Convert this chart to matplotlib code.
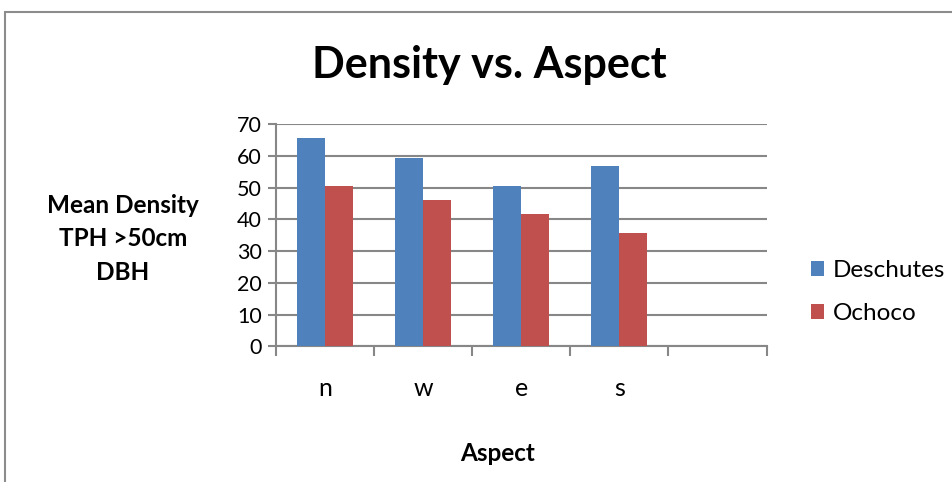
import numpy as np
import matplotlib.pyplot as plt
from matplotlib.patches import Rectangle

plt.rcParams['font.family'] = ['Lato', 'DejaVu Sans']

aspects = ['n', 'w', 'e', 's', '']
deschutes = [65.8, 59.5, 50.5, 56.8]
ochoco = [50.5, 46.1, 41.6, 35.8]
yticks = [0, 10, 20, 30, 40, 50, 60, 70]

blue = '#4F81BD'
red = '#C0504D'
grid_col = '#878787'

fig = plt.figure(figsize=(9.53, 4.82), dpi=100)
# chart area frame
fig.patches.append(Rectangle((5 / 953, -0.1), 1.2, 1 - 12 / 482 + 0.1,
                             transform=fig.transFigure, fill=False,
                             edgecolor='#8c8c8c', lw=1.5))

ax = fig.add_axes([0.2893, 0.2815, 0.5152, 0.4606])

n = len(deschutes)
x = np.arange(n)
w = 1 / 3.5
ax.bar(x - w / 2, deschutes, width=w, color=blue, label='Deschutes', zorder=3)
ax.bar(x + w / 2, ochoco, width=w, color=red, label='Ochoco', zorder=3)

ax.set_xlim(-0.5, len(aspects) - 0.5)
ax.set_ylim(0, 70)
ax.set_yticks(yticks)
ax.yaxis.grid(True, color=grid_col, lw=1.5, zorder=0)
ax.set_axisbelow(True)

# category boundaries carry the tick marks, labels sit at the centres
ax.set_xticks(np.arange(len(aspects) + 1) - 0.5)
ax.set_xticklabels([])
ax.set_xticks(np.arange(len(aspects)), minor=True)
ax.set_xticklabels(aspects, minor=True, fontsize=18)
ax.tick_params(axis='x', which='major', length=7, width=1.5, color=grid_col)
ax.tick_params(axis='x', which='minor', length=0, pad=22)
ax.tick_params(axis='y', length=6, width=1.5, color=grid_col, labelsize=15.5, pad=4)

for side in ['top', 'right']:
    ax.spines[side].set_visible(False)
for side in ['left', 'bottom']:
    ax.spines[side].set_color(grid_col)
    ax.spines[side].set_linewidth(1.5)

fig.text(0.513, 0.865, 'Density vs. Aspect', ha='center', va='center',
         fontsize=31, fontweight='bold')
fig.text(0.129, 0.505, 'Mean Density\nTPH >50cm\nDBH', ha='center', va='center',
         fontsize=17.5, fontweight='bold', linespacing=1.55)
fig.text(0.522, 0.06, 'Aspect', ha='center', va='center',
         fontsize=17.5, fontweight='bold')

ax.legend(loc='center left', bbox_to_anchor=(1.045, 0.245), frameon=False,
          fontsize=17.5, handlelength=0.55, handleheight=0.55, handletextpad=0.35,
          labelspacing=0.9)

fig.savefig('out.png', dpi=100)
